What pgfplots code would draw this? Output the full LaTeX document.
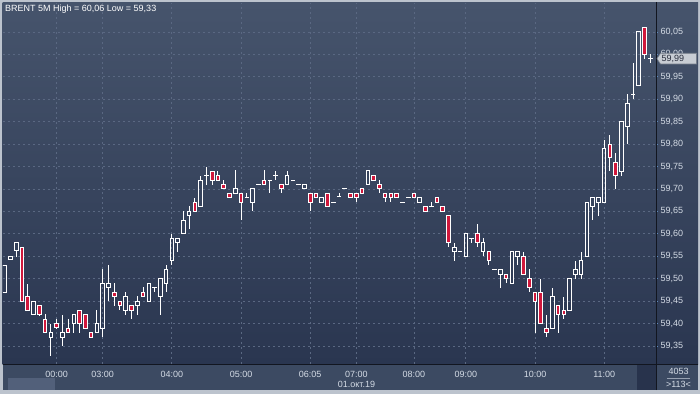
\documentclass[border=0pt]{standalone}
\usepackage{pgfplots}
\pgfplotsset{compat=1.18}
\usepackage{pgfplotstable}
\usepackage{fontspec}
\setmainfont{Liberation Sans}
\definecolor{bgtop}{RGB}{70,84,108}
\definecolor{bgbot}{RGB}{42,54,80}
\definecolor{strip}{RGB}{60,74,98}
\definecolor{thumb}{RGB}{82,96,122}
\definecolor{darkbox}{RGB}{40,51,76}
\definecolor{framec}{RGB}{188,195,205}
\definecolor{gridc}{RGB}{90,104,130}
\definecolor{candlered}{RGB}{208,24,60}
\definecolor{labelc}{RGB}{212,219,229}
\definecolor{tickblue}{RGB}{96,140,190}
\definecolor{axisline}{RGB}{18,22,32}
\definecolor{markerfill}{RGB}{200,205,212}
\definecolor{markeredge}{RGB}{120,128,140}
\definecolor{markertext}{RGB}{40,45,60}

\pgfplotstableread{
i O H L C
1 59.470 59.530 59.470 59.530
2 59.542 59.550 59.542 59.549
3 59.562 59.582 59.549 59.580
4 59.569 59.571 59.450 59.450
5 59.460 59.489 59.430 59.430
6 59.421 59.450 59.421 59.450
7 59.440 59.440 59.418 59.421
8 59.410 59.421 59.380 59.380
9 59.369 59.400 59.328 59.380
10 59.400 59.410 59.390 59.391
11 59.369 59.420 59.350 59.380
12 59.389 59.410 59.380 59.380
13 59.400 59.420 59.380 59.420
14 59.429 59.429 59.380 59.400
15 59.420 59.420 59.389 59.389
16 59.380 59.380 59.369 59.369
17 59.380 59.430 59.380 59.400
18 59.389 59.522 59.369 59.490
19 59.481 59.531 59.450 59.490
20 59.470 59.490 59.440 59.461
21 59.450 59.450 59.430 59.440
22 59.430 59.470 59.420 59.461
23 59.440 59.440 59.410 59.430
24 59.440 59.461 59.420 59.450
25 59.470 59.481 59.461 59.461
26 59.450 59.490 59.450 59.490
27 59.481 59.481 59.470 59.481
28 59.460 59.500 59.420 59.500
29 59.490 59.530 59.470 59.520
30 59.541 59.600 59.530 59.589
31 59.580 59.589 59.560 59.589
32 59.600 59.650 59.600 59.630
33 59.641 59.661 59.610 59.650
34 59.670 59.681 59.650 59.650
35 59.660 59.730 59.660 59.720
36 59.730 59.750 59.710 59.730
37 59.740 59.740 59.710 59.720
38 59.730 59.740 59.720 59.720
39 59.711 59.720 59.700 59.700
40 59.690 59.690 59.681 59.681
41 59.690 59.742 59.690 59.700
42 59.690 59.690 59.630 59.670
43 59.681 59.690 59.681 59.681
44 59.670 59.700 59.650 59.700
45 59.711 59.711 59.711 59.711
46 59.720 59.742 59.711 59.711
47 59.720 59.720 59.690 59.720
48 59.730 59.740 59.720 59.730
49 59.711 59.711 59.690 59.700
50 59.711 59.740 59.711 59.730
51 59.720 59.720 59.720 59.720
52 59.711 59.711 59.711 59.711
53 59.700 59.711 59.700 59.711
54 59.690 59.690 59.650 59.670
55 59.690 59.690 59.681 59.681
56 59.670 59.681 59.670 59.681
57 59.690 59.690 59.660 59.660
58 59.670 59.670 59.670 59.670
59 59.683 59.692 59.683 59.683
60 59.700 59.700 59.700 59.700
61 59.690 59.690 59.680 59.680
62 59.690 59.690 59.670 59.680
63 59.700 59.700 59.690 59.690
64 59.710 59.741 59.710 59.741
65 59.730 59.730 59.720 59.720
66 59.711 59.720 59.690 59.700
67 59.690 59.690 59.670 59.680
68 59.690 59.690 59.670 59.680
69 59.690 59.690 59.680 59.680
70 59.670 59.670 59.670 59.670
71 59.680 59.680 59.680 59.680
72 59.690 59.690 59.680 59.680
73 59.670 59.680 59.670 59.680
74 59.661 59.661 59.650 59.650
75 59.661 59.670 59.661 59.661
76 59.680 59.680 59.670 59.670
77 59.661 59.661 59.650 59.650
78 59.641 59.641 59.570 59.580
79 59.560 59.580 59.540 59.570
80 59.560 59.560 59.560 59.560
81 59.550 59.600 59.550 59.600
82 59.590 59.590 59.580 59.590
83 59.600 59.621 59.570 59.580
84 59.560 59.590 59.550 59.580
85 59.560 59.560 59.530 59.540
86 59.521 59.521 59.521 59.521
87 59.510 59.521 59.480 59.521
88 59.510 59.510 59.490 59.500
89 59.490 59.560 59.490 59.560
90 59.550 59.560 59.530 59.560
91 59.550 59.560 59.510 59.510
92 59.500 59.521 59.470 59.480
93 59.470 59.470 59.380 59.450
94 59.470 59.500 59.400 59.400
95 59.390 59.420 59.369 59.380
96 59.390 59.480 59.390 59.460
97 59.440 59.440 59.380 59.420
98 59.430 59.460 59.410 59.420
99 59.430 59.500 59.430 59.500
100 59.510 59.540 59.500 59.521
101 59.510 59.560 59.500 59.540
102 59.550 59.670 59.550 59.670
103 59.661 59.680 59.630 59.680
104 59.670 59.680 59.640 59.680
105 59.670 59.810 59.670 59.790
106 59.800 59.820 59.740 59.770
107 59.760 59.780 59.700 59.730
108 59.740 59.850 59.730 59.850
109 59.840 59.911 59.800 59.890
110 59.910 59.980 59.900 59.910
111 59.930 60.050 59.930 60.050
112 60.060 60.060 59.990 60.000
113 59.990 60.000 59.980 59.990
}\candles

\pgfplotsset{
  cbar/.style={draw=none, mark=none, forget plot,
    error bars/y explicit, error bars/x explicit, error bars/error mark=none,
    error bars/error bar style={draw=#1, line width=1pt, line cap=butt}},
}

\begin{document}
\begin{tikzpicture}
\useasboundingbox (0pt,0pt) rectangle (700pt,394pt);
\fill[framec] (0pt,0pt) rectangle (700pt,394pt);
\shade[top color=bgtop,bottom color=bgbot] (2.5pt,30pt) rectangle (698pt,391.5pt);
\fill[strip] (2.5pt,4pt) rectangle (698pt,30pt);
\fill[thumb] (8.3pt,4pt) rectangle (55pt,16.3pt);
\fill[darkbox] (637pt,4pt) rectangle (655.5pt,29.5pt);
\begin{axis}[
  at={(3pt,30pt)}, anchor=south west,
  scale only axis, width=653pt, height=361pt,
  xmin=0.705, xmax=113.99, ymin=59.3099, ymax=60.1146,
  axis line style={draw=none},
  xtick={10,18,30,42,54,62,72,81,93,105},
  xticklabels={00:00,03:00,04:00,05:00,06:05,07:00,08:00,09:00,10:00,11:00},
  ytick={59.35,59.4,59.45,59.5,59.55,59.6,59.65,59.7,59.75,59.8,59.85,59.9,59.95,60,60.05},
  yticklabel pos=right, ytick pos=right, xtick pos=bottom,
  xtick style={draw=none},
  ytick style={draw=tickblue, line width=0.8pt},
  tick align=outside, major tick length=2pt,
  /pgf/number format/.cd, fixed, fixed zerofill, precision=2, use comma, assume math mode=true,
  /pgfplots/.cd,
  tick label style={font=\fontsize{9}{10}\selectfont, text=labelc},
  xticklabel style={yshift=-1.2pt},
  yticklabel style={xshift=-1pt},
  grid=major,
  major grid style={draw=gridc, dash pattern=on 2pt off 3pt, line width=0.8pt},
]
% upper wicks
\addplot[cbar=white, error bars/y dir=plus]
  table[x=i, y expr={max(\thisrow{O},\thisrow{C})},
        y error plus expr={\thisrow{H}-max(\thisrow{O},\thisrow{C})}] \candles;
% lower wicks
\addplot[cbar=white, error bars/y dir=minus]
  table[x=i, y expr={min(\thisrow{O},\thisrow{C})},
        y error minus expr={min(\thisrow{O},\thisrow{C})-\thisrow{L}}] \candles;
% red bodies
\addplot[cbar=candlered, error bars/y dir=plus, error bars/error bar style={line width=3.6pt}]
  table[x=i, y=C,
        y error plus expr={(\thisrow{O}>\thisrow{C})*(\thisrow{O}-\thisrow{C})}] \candles;
% left edges
\addplot[cbar=white, error bars/y dir=plus]
  table[x expr={\thisrow{i}-0.312}, y expr={min(\thisrow{O},\thisrow{C})},
        y error plus expr={abs(\thisrow{O}-\thisrow{C})}] \candles;
% right edges
\addplot[cbar=white, error bars/y dir=plus]
  table[x expr={\thisrow{i}+0.312}, y expr={min(\thisrow{O},\thisrow{C})},
        y error plus expr={abs(\thisrow{O}-\thisrow{C})}] \candles;
% top edges
\addplot[cbar=white, error bars/x dir=both]
  table[x=i, y expr={max(\thisrow{O},\thisrow{C})}, x error expr={0.399}] \candles;
% bottom edges
\addplot[cbar=white, error bars/x dir=both]
  table[x=i, y expr={min(\thisrow{O},\thisrow{C})}, x error expr={0.399}] \candles;
\end{axis}
\draw[axisline, line width=1pt] (2.5pt,30pt) -- (698pt,30pt);
\draw[axisline, line width=1pt] (656pt,4pt) -- (656pt,391.5pt);
\node[anchor=west, inner sep=0pt, text=white, font=\fontsize{9}{10}\selectfont] at (5pt,385pt) {BRENT 5M High = 60,06 Low = 59,33};
\filldraw[fill=markerfill, draw=markeredge, line width=0.6pt] (657pt,335.3pt) -- (660.5pt,340.7pt) -- (696.5pt,340.7pt) -- (696.5pt,330pt) -- (660.5pt,330pt) -- cycle;
\node[anchor=west, inner sep=0pt, text=markertext, font=\fontsize{9}{10}\selectfont] at (661.5pt,335.3pt) {59,99};
\node[inner sep=0pt, text=labelc, font=\fontsize{9}{10}\selectfont] at (678.5pt,22.8pt) {4053};
\node[inner sep=0pt, text=labelc, font=\fontsize{9}{10}\selectfont] at (678.5pt,9.5pt) {>113<};
\draw[labelc!60!strip, line width=0.6pt] (667pt,16pt) -- (690pt,16pt);
\node[inner sep=0pt, text=labelc, font=\fontsize{9}{10}\selectfont] at (356.5pt,9.8pt) {01.окт.19};
\end{tikzpicture}
\end{document}
